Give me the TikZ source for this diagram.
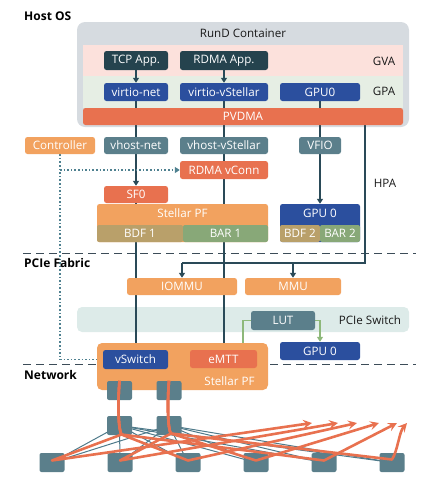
\documentclass[tikz,border=0pt]{standalone}
\usepackage{fontspec}
\setmainfont{Open Sans}
\usetikzlibrary{arrows.meta,calc}
\pgfdeclarelayer{back}
\pgfdeclarelayer{mid}
\pgfdeclarelayer{front}
\pgfsetlayers{back,mid,main,front}
\definecolor{cDark}{HTML}{25434E}
\definecolor{cBlue}{HTML}{2B4F9E}
\definecolor{cTeal}{HTML}{5B7F8B}
\definecolor{cOrange}{HTML}{F2A25F}
\definecolor{cRed}{HTML}{E8714F}
\definecolor{cKhaki}{HTML}{B9A06A}
\definecolor{cGreen}{HTML}{88A878}
\definecolor{cGVA}{HTML}{FCE1DC}
\definecolor{cGPA}{HTML}{E6EEE4}
\definecolor{cCont}{HTML}{D6DBE0}
\definecolor{cSwitch}{HTML}{DDEBE9}
\definecolor{cLine}{HTML}{2A4A58}
\definecolor{cGLine}{HTML}{8DB87A}
\definecolor{cDot}{HTML}{4F8190}
\definecolor{cDash}{HTML}{3C4C58}
\definecolor{cNetLine}{HTML}{4E7A8A}
\begin{document}
\begin{tikzpicture}[x=1pt,y=-1pt,
  box/.style={rounded corners=2.5pt, inner sep=0pt, text=white, font=\fontsize{11.6}{13}\selectfont, anchor=center},
  sz/.style 2 args={minimum width=#1pt, minimum height=#2pt},
  lbl/.style={inner sep=0pt, font=\fontsize{11.6}{13}\selectfont, text=black!90},
  sec/.style={inner sep=0pt, font=\fontsize{12}{14}\selectfont\bfseries, anchor=west},
  wtxt/.style={inner sep=0pt, text=white, font=\fontsize{11.6}{13}\selectfont},
  conn/.style={draw=cLine, line width=1.6pt},
  arr/.style={-{Triangle[length=5pt,width=6pt]}},
  dotline/.style={draw=cDot, line width=1.6pt, dotted},
  gline/.style={draw=cGLine, line width=1.5pt},
  divider/.style={draw=cDash, line width=1pt, dash pattern=on 8pt off 5pt},
  sq/.style={fill=cTeal, rounded corners=2pt, minimum width=25pt, minimum height=19pt, inner sep=0pt},
  net/.style={draw=cRed, line width=2.6pt, line join=round},
  netarr/.style={-{Stealth[length=9pt,width=9pt,inset=3.5pt]}},
]
\useasboundingbox (0,0) rectangle (436,488);

% ---------- back layer: containers and bands
\begin{pgfonlayer}{back}
\node[fill=cCont, rounded corners=8pt, sz={332}{105}] (cont) at (243,74.5) {};
\node[fill=cGVA, sz={320}{31}, inner sep=0pt] (gva) at (243,60.5) {};
\node[fill=cGPA, sz={320}{32}, inner sep=0pt] (gpa) at (243,92) {};
\node[fill=cSwitch, rounded corners=5pt, sz={332}{25}] (pswitch) at (243,319.5) {};
\end{pgfonlayer}

% ---------- labels
\node[sec] (hostos) at (24,16) {Host OS};
\node[sec] (pcief) at (24,263) {PCIe Fabric};
\node[sec] (netw) at (24,375) {Network};
\node[lbl] (rund) at (243,33) {RunD Container};
\node[lbl] (gvat) at (384,61) {GVA};
\node[lbl] (gpat) at (384,91) {GPA};
\node[lbl] (hpat) at (385,183) {HPA};
\node[lbl] (pswt) at (370,320) {PCIe Switch};

% ---------- guest boxes
\node[box, fill=cRed, sz={320}{17}] (pvdma) at (243,116.5) {PVDMA};
\node[box, fill=cDark, sz={64}{19}] (tcp) at (136,60.5) {TCP App.};
\node[box, fill=cDark, sz={88}{19}] (rapp) at (224,60.5) {RDMA App.};
\node[box, fill=cBlue, sz={64}{18}] (vnet) at (136,92) {virtio-net};
\node[box, fill=cBlue, sz={88}{18}] (vvst) at (224,92) {virtio-vStellar};
\node[box, fill=cBlue, sz={80}{18}] (gpu0) at (320,92) {GPU0};

% ---------- host boxes
\node[box, fill=cOrange, sz={70}{17}] (ctrl) at (60,145.5) {Controller};
\node[box, fill=cTeal, sz={64}{17}] (vhnet) at (136,145.5) {vhost-net};
\node[box, fill=cTeal, sz={88}{17}] (vhvst) at (224,145.5) {vhost-vStellar};
\node[box, fill=cTeal, sz={42}{17}] (vfio) at (320,145.5) {VFIO};
\node[box, fill=cRed, sz={88}{18}] (rvc) at (224,170) {RDMA vConn};
\node[box, fill=cRed, sz={64}{17}] (sf0) at (136,194.5) {SF0};

\node[box, fill=cOrange, sz={171}{38}] (spf) at (182.5,223) {};
\node[wtxt] (spft) at (182.5,213) {Stellar PF};
\node[box, fill=cKhaki, sz={86}{17}, rounded corners=2pt] (bdf1) at (140,233.5) {BDF 1};
\node[box, fill=cGreen, sz={85}{17}, rounded corners=2pt] (bar1) at (225.5,233.5) {BAR 1};

\node[box, fill=cBlue, sz={80}{38}] (hgpu) at (320,223) {};
\node[wtxt] (hgput) at (320,213) {GPU 0};
\node[box, fill=cKhaki, sz={40}{17}, rounded corners=2pt] (bdf2) at (300,233.5) {BDF 2};
\node[box, fill=cGreen, sz={40}{17}, rounded corners=2pt] (bar2) at (340,233.5) {BAR 2};

% ---------- PCIe fabric
\node[box, fill=cOrange, sz={110}{17}] (iommu) at (182,286.5) {IOMMU};
\node[box, fill=cOrange, sz={96}{17}] (mmu) at (293,286.5) {MMU};
\node[box, fill=cTeal, sz={64}{19}] (lut) at (283,320.5) {LUT};
\node[box, fill=cBlue, sz={80}{18}] (lgpu) at (320,351) {GPU 0};

% ---------- lower Stellar PF
\node[box, fill=cOrange, sz={171}{47}, rounded corners=5pt] (lspf) at (182.5,366.5) {};
\node[box, fill=cBlue, sz={65}{19}] (vsw) at (135.5,359.5) {vSwitch};
\node[box, fill=cRed, sz={67}{18}] (emtt) at (223.5,359) {eMTT};
\node[wtxt] (lspft) at (229.5,381) {Stellar PF};

% ---------- network squares
\node[sq] (t1) at (119.5,390.5) {};
\node[sq] (t2) at (169,390.5) {};
\node[sq] (m1) at (119.5,425.5) {};
\node[sq] (m2) at (169,425.5) {};
\node[sq] (b1) at (52,462.5) {};
\node[sq] (b2) at (120,462.5) {};
\node[sq] (b3) at (188,462.5) {};
\node[sq] (b4) at (256,462.5) {};
\node[sq] (b5) at (324,462.5) {};
\node[sq] (b6) at (392,462.5) {};

\coordinate (hpa) at (365,263);
\coordinate (cd) at (60,359.5);
\coordinate (tip1) at (312,423);
\coordinate (tip2) at (338,423);
\coordinate (tip3) at (357,423);
\coordinate (tip4) at (379,423);
\coordinate (tip5) at (397,423);
\coordinate (tip6) at (407,423);

% ---------- connectors (behind boxes)
\begin{pgfonlayer}{mid}
\draw[divider] (23,253) -- (416,253);
\draw[divider] (23,364) -- (416,364);
\draw[conn,arr] (tcp) -- (vnet);
\draw[conn,arr] (rapp) -- (vvst);
\draw[conn,arr] (vnet.south) -- (sf0.north);
\draw[conn,arr] (sf0.south) -- (sf0.south |- vsw.north);
\draw[conn,arr] (vvst.south) -- (vvst.south |- emtt.north);
\draw[conn,arr] (gpu0.south) -- (hgpu.north);
\draw[conn] (pvdma.south -| hpa) -- (hpa) -- (iommu.north |- hpa);
\draw[conn,arr] (iommu.north |- hpa) -- (iommu.north);
\draw[conn,arr] (mmu.north |- hpa) -- (mmu.north);
\draw[dotline] (ctrl.south) -- (cd);
\draw[dotline,arr] (cd) -- (vsw.west);
\draw[dotline,arr] (ctrl.south |- rvc.west) -- (rvc.west);
\draw[gline,arr] (lut.west) -| ($(emtt.north)+(19.5,0)$);
\draw[gline,arr] (lut.east) -| (lgpu.north);
\foreach \m in {m1,m2}{
  \foreach \b in {b1,b2,b3,b4,b5,b6}{
    \draw[draw=cNetLine, line width=1pt] (\m.center) -- (\b.center);
  }
}
\end{pgfonlayer}

% ---------- network traffic (front)
\begin{pgfonlayer}{front}
\draw[net,netarr] (t1.north) .. controls ($(m1.center)+(-2,-20)$) and ($(m1.center)+(-1,5)$) .. ($(m1.center)+(2,9)$) -- ($(b1.center)+(0,-2)$) -- (tip1);
\draw[net,netarr] (t2.north) .. controls ($(m2.center)+(-2,-20)$) and ($(m2.center)+(-1,5)$) .. ($(m2.center)+(2,8)$) -- ($(b2.center)+(0,-2)$) -- (tip2);
\draw[net,netarr] (t1.north) .. controls ($(m1.center)+(-2,-20)$) and ($(m1.center)+(-1,5)$) .. ($(m1.center)+(2,9)$) -- ($(b3.center)+(0,-2)$) -- (tip3);
\draw[net,netarr] (t2.north) .. controls ($(m2.center)+(-2,-20)$) and ($(m2.center)+(-1,5)$) .. ($(m2.center)+(2,8)$) -- ($(b4.center)+(0,-2)$) -- (tip4);
\draw[net,netarr] (t1.north) .. controls ($(m1.center)+(-2,-20)$) and ($(m1.center)+(-1,5)$) .. ($(m1.center)+(2,9)$) -- ($(b5.center)+(0,-2)$) -- (tip5);
\draw[net,netarr] (t2.north) .. controls ($(m2.center)+(-2,-20)$) and ($(m2.center)+(-1,5)$) .. ($(m2.center)+(2,8)$) -- ($(b6.center)+(0,-3)$) .. controls (398,450) and (399,432) .. (tip6);
\end{pgfonlayer}
\end{tikzpicture}
\end{document}
